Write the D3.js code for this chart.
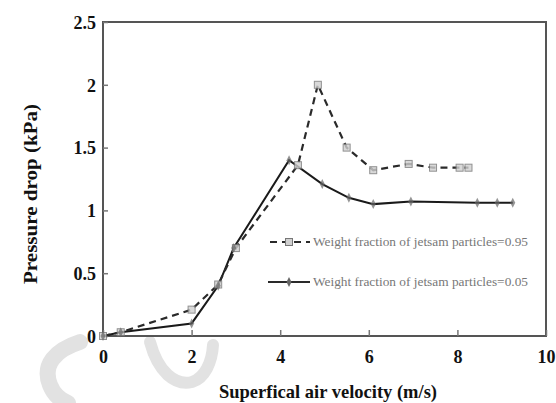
<!DOCTYPE html>
<html><head><meta charset="utf-8">
<script src="https://cdn.jsdelivr.net/npm/d3@7"></script>
<style>body{margin:0;background:#fff}svg{display:block}text{font-family:'Liberation Serif','Times New Roman',serif}</style>
</head><body>
<svg id="c" width="556" height="403"></svg>
<script>
const xTicks = [0, 2, 4, 6, 8, 10];
const yTicks = [0, 0.5, 1, 1.5, 2, 2.5];
const yTickLabels = ["0", "0.5", "1", "1.5", "2", "2.5"];
const seriesNames = ["Weight fraction of jetsam particles=0.95", "Weight fraction of jetsam particles=0.05"];
const v95 = [0, 0.4, 2, 2.6, 3, 4.4, 4.85, 5.5, 6.1, 6.9, 7.45, 8.05, 8.25];
const p95 = [0, 0.03, 0.21, 0.41, 0.7, 1.36, 2.0, 1.5, 1.32, 1.37, 1.34, 1.34, 1.34];
const v05 = [0, 0.4, 2, 2.6, 2.95, 4.2, 4.95, 5.55, 6.1, 6.95, 8.45, 8.9, 9.25];
const p05 = [0, 0.03, 0.1, 0.4, 0.7, 1.4, 1.21, 1.1, 1.05, 1.07, 1.06, 1.06, 1.06];

const svg = d3.select("#c");
const x = d3.scaleLinear().domain([0, 10]).range([103, 546]);
const y = d3.scaleLinear().domain([0, 2.5]).range([336, 22]);

// watermark
const wm = svg.append("g").attr("fill", "none").attr("stroke", "#e2e2e2").attr("stroke-linecap", "round");
wm.append("path").attr("d", "M80,342 C55,350 42,365 50,385 C54,395 60,400 68,403").attr("stroke-width", 16);
wm.append("path").attr("d", "M150,342 C158,372 175,386 192,382 C205,378 212,362 213,345").attr("stroke-width", 12);

const frameColor = "#555";
svg.append("rect").attr("x", x(0)).attr("y", y(2.5)).attr("width", x(10) - x(0)).attr("height", y(0) - y(2.5))
  .attr("fill", "none").attr("stroke", frameColor).attr("stroke-width", 2);

const xAxis = d3.axisBottom(x).tickValues(xTicks).tickSize(-6).tickPadding(14).tickFormat(d3.format("d"));
const gx = svg.append("g").attr("transform", `translate(0,${y(0)})`).call(xAxis);
const yAxis = d3.axisLeft(y).tickValues(yTicks).tickSize(-5).tickPadding(7).tickFormat((d, i) => yTickLabels[i]);
const gy = svg.append("g").attr("transform", `translate(${x(0)},0)`).call(yAxis);
[gx, gy].forEach(g => {
  g.select(".domain").remove();
  g.attr("font-family", null);
  g.selectAll(".tick line").attr("stroke", "#777").attr("stroke-width", 1.5);
  g.selectAll(".tick text").attr("fill", "#111").attr("font-weight", "bold").attr("font-size", 18);
});
gy.selectAll(".tick text").attr("dy", "0.35em");

svg.append("text").attr("x", 328).attr("y", 398).attr("text-anchor", "middle")
  .attr("font-weight", "bold").attr("font-size", 19).attr("textLength", 218).attr("lengthAdjust", "spacingAndGlyphs")
  .attr("fill", "#111").text("Superfical air velocity (m/s)");
svg.append("text").attr("transform", "translate(37,194) rotate(-90)").attr("text-anchor", "middle")
  .attr("font-weight", "bold").attr("font-size", 19).attr("textLength", 180).attr("lengthAdjust", "spacingAndGlyphs")
  .attr("fill", "#111").text("Pressure drop (kPa)");

const line = d3.line().x(d => x(d[0])).y(d => y(d[1]));
const d95 = v95.map((v, i) => [v, p95[i]]);
const d05 = v05.map((v, i) => [v, p05[i]]);

svg.append("path").datum(d05).attr("d", line).attr("fill", "none").attr("stroke", "#1a1a1a").attr("stroke-width", 2);
svg.append("path").datum(d95).attr("d", line).attr("fill", "none").attr("stroke", "#2a2a2a").attr("stroke-width", 2.2)
  .attr("stroke-dasharray", "7,5");

svg.append("g").selectAll("rect").data(d95).join("rect")
  .attr("x", d => x(d[0]) - 3.5).attr("y", d => y(d[1]) - 3.5).attr("width", 7).attr("height", 7)
  .attr("fill", "#d0d0d0").attr("stroke", "#777").attr("stroke-width", 1).attr("opacity", 0.8);
svg.append("g").selectAll("path").data(d05).join("path")
  .attr("d", d => `M${x(d[0])},${y(d[1]) - 5}L${x(d[0]) + 2.5},${y(d[1])}L${x(d[0])},${y(d[1]) + 5}L${x(d[0]) - 2.5},${y(d[1])}Z`)
  .attr("fill", "#666").attr("opacity", 0.7);

const leg = svg.append("g");
const rows = [{y: 242, dash: "7,5", marker: "sq"}, {y: 282, dash: null, marker: "dm"}];
rows.forEach((r, i) => {
  const l = leg.append("line").attr("x1", 268).attr("x2", 310).attr("y1", r.y).attr("y2", r.y)
    .attr("stroke", "#2a2a2a").attr("stroke-width", 2);
  if (r.dash) l.attr("stroke-dasharray", r.dash).attr("stroke-dashoffset", -2);
  if (r.marker === "sq") {
    leg.append("rect").attr("x", 285.5).attr("y", r.y - 3.5).attr("width", 7).attr("height", 7)
      .attr("fill", "#d0d0d0").attr("stroke", "#777");
  } else {
    leg.append("path").attr("d", `M289,${r.y - 5}L291.5,${r.y}L289,${r.y + 5}L286.5,${r.y}Z`).attr("fill", "#666");
  }
  leg.append("text").attr("x", 313).attr("y", r.y + 3.5).attr("textLength", 215).attr("lengthAdjust", "spacingAndGlyphs")
    .attr("font-size", 11.5).attr("fill", "#777").text(seriesNames[i]);
});
</script>
</body></html>
